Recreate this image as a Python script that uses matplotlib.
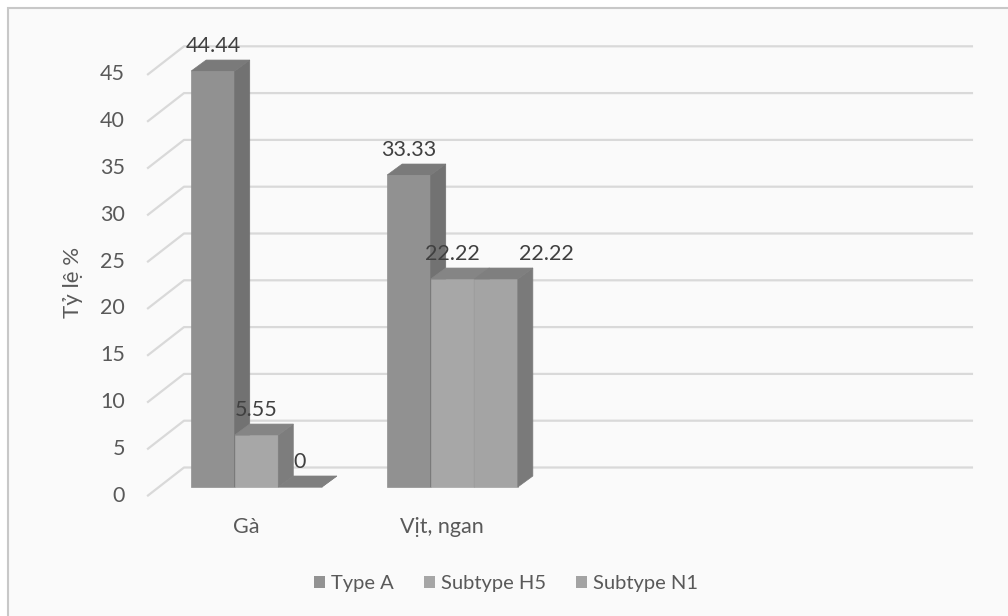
import matplotlib
matplotlib.use('Agg')
import matplotlib.pyplot as plt
from matplotlib.patches import Polygon, Patch, Rectangle

plt.rcParams['font.family'] = ['Lato', 'Noto Sans', 'DejaVu Sans']

categories = ['Gà', 'Vịt, ngan']
series = ['Type A', 'Subtype H5', 'Subtype N1']
type_a = [44.44, 33.33]
subtype_h5 = [5.55, 22.22]
subtype_n1 = [0, 22.22]
yticks = list(range(0, 50, 5))

n_slots = 4  # the category axis has room for 4 groups, only 2 are used

# front / side / top shades for each series
shades = [
    ('#919191', '#727272', '#7a7a7a'),
    ('#a7a7a7', '#7d7d7d', '#858585'),
    ('#a4a4a4', '#7a7a7a', '#7f7f7f'),
]
legend_cols = ['#929292', '#a6a6a6', '#a3a3a3']

# excel pushed one label sideways so it would not sit on its neighbour
label_nudge = {(1, 2): 36}

fig = plt.figure(figsize=(10.08, 6.16), dpi=100)
fig.patch.set_facecolor('white')
fig.add_artist(Rectangle((7.5 / 1008, -0.05), 1.1, 1 - 8 / 616 + 0.05,
                         transform=fig.transFigure, facecolor='#fafafa',
                         edgecolor='#c8c8c8', lw=1.5, zorder=0))

ax = fig.add_axes([158.5 / 1008, 129 / 616, 784 / 1008, 468 / 616])
ax.set_xlim(0, n_slots)
ax.set_ylim(0, 50)
ax.axis('off')

# depth offsets (data units) for the fake 3d look
px_x = 784 / n_slots
px_y = 468 / 50
bar_dx, bar_dy = 15 / px_x, 11 / px_y
floor_dx, floor_dy = -10.5 / px_x, -8.5 / px_y
wall_dx, wall_dy = 25.5 / px_x, 19.5 / px_y

grid_col = '#d9d9d9'
for v in yticks:
    ax.plot([floor_dx, wall_dx, n_slots + wall_dx + 0.02],
            [v + floor_dy, v + wall_dy, v + wall_dy],
            color=grid_col, lw=1.6, clip_on=False, zorder=1)
    ax.annotate(str(v), xy=(floor_dx, v + floor_dy), xytext=(-16.5, 0),
                textcoords='offset points', ha='right', va='center',
                fontsize=15.5, color='#595959', annotation_clip=False)

values = [type_a, subtype_h5, subtype_n1]
w = 1 / (len(series) + 1.5)
z = 3
for i, cat in enumerate(categories):
    for k, vals in enumerate(values):
        h = vals[i]
        front, side, top = shades[k]
        x0 = i + (1 - len(series) * w) / 2 + k * w
        ax.bar(x0, h, width=w, align='edge', color=front, edgecolor=front,
               lw=0.5, zorder=z, clip_on=False)
        ax.add_patch(Polygon([(x0 + w, 0), (x0 + w + bar_dx, bar_dy),
                              (x0 + w + bar_dx, h + bar_dy), (x0 + w, h)],
                             closed=True, facecolor=side, edgecolor=side,
                             lw=0.5, zorder=z, clip_on=False))
        ax.add_patch(Polygon([(x0, h), (x0 + bar_dx, h + bar_dy),
                              (x0 + w + bar_dx, h + bar_dy), (x0 + w, h)],
                             closed=True, facecolor=top, edgecolor=top,
                             lw=0.5, zorder=z, clip_on=False))
        z += 0.1
        ax.annotate(f'{h:g}', xy=(x0 + w / 2, h),
                    xytext=(label_nudge.get((i, k), 0), 18),
                    textcoords='offset points', ha='center', va='center',
                    fontsize=15.5, color='#404040', zorder=10,
                    annotation_clip=False)
    ax.annotate(cat, xy=(i + 0.5 + floor_dx, floor_dy), xytext=(0, -22.7),
                textcoords='offset points', ha='center', va='center',
                fontsize=15.5, color='#595959', annotation_clip=False)

fig.text(73 / 1008, 1 - 282 / 616, 'Tỷ lệ %', rotation=90, ha='center',
         va='center', fontsize=16, color='#595959')

handles = [Patch(facecolor=c, edgecolor='none') for c in legend_cols]
fig.legend(handles, series, loc='center', bbox_to_anchor=(506 / 1008, 1 - 584 / 616),
           ncol=3, frameon=False, fontsize=14.5, labelcolor='#595959',
           handlelength=0.55, handleheight=0.55, handletextpad=0.3,
           columnspacing=1.5)

fig.savefig('out.png', dpi=100)
